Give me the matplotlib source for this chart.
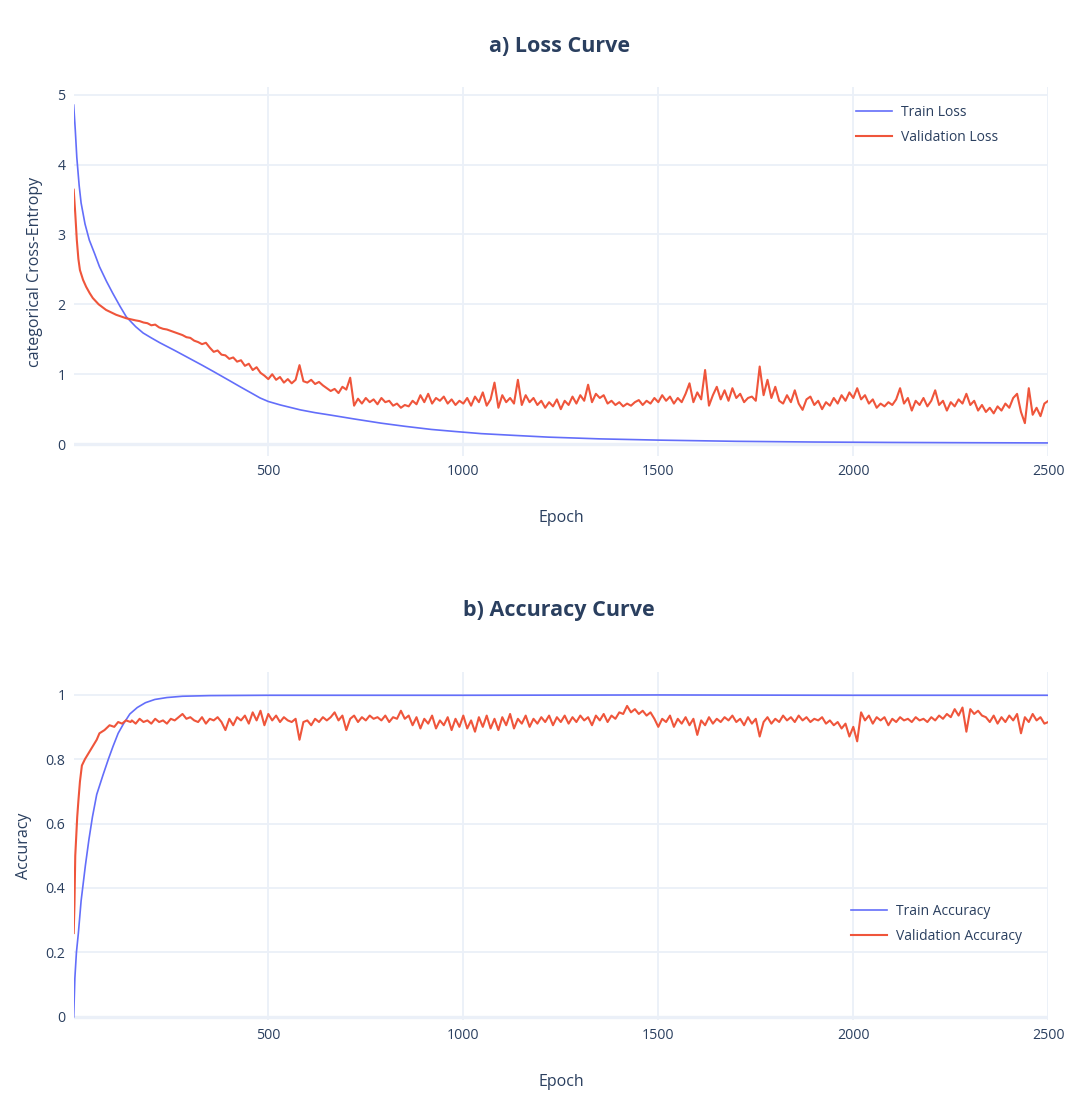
import numpy as np
import matplotlib
matplotlib.use("Agg")
import matplotlib.pyplot as plt

plt.rcParams['font.family'] = ['Open Sans', 'DejaVu Sans']

TEXT = '#2a3f5f'
GRID = '#ebf0f8'
BLUE = '#636efa'
RED = '#ef553b'

# ---- loss curve ----
train_loss_epochs = [1, 5, 9, 15, 20, 30, 41, 55, 67, 85, 101, 120, 136, 160, 179, 200, 222, 260,
                     290, 330, 359, 400, 428, 460, 479, 500, 531, 582, 620, 660, 720, 789, 850,
                     918, 980, 1046, 1130, 1218, 1350, 1502, 1700, 1900, 2100, 2300, 2500]
train_loss = [4.85, 4.5, 4.1, 3.7, 3.45, 3.15, 2.92, 2.72, 2.54, 2.33, 2.16, 1.97, 1.82, 1.68,
              1.59, 1.52, 1.45, 1.34, 1.25, 1.13, 1.04, 0.91, 0.82, 0.72, 0.66, 0.61, 0.56, 0.49,
              0.45, 0.415, 0.36, 0.30, 0.255, 0.21, 0.18, 0.15, 0.125, 0.10, 0.075, 0.057, 0.04,
              0.03, 0.024, 0.02, 0.017]

val_loss_head_epochs = [1, 5, 9, 13, 17, 25, 33, 42, 50, 65, 84, 110, 136, 160]
val_loss_head = [3.64, 3.3, 2.92, 2.65, 2.49, 2.35, 2.25, 2.16, 2.09, 2.0, 1.92, 1.85, 1.80, 1.77]
# every 10 epochs from 170 to 2500
val_loss_tail = [
    1.76, 1.74, 1.73, 1.70, 1.71, 1.67, 1.65, 1.64, 1.62, 1.60,
    1.58, 1.56, 1.53, 1.52, 1.48, 1.46, 1.43, 1.45, 1.38, 1.32,
    1.34, 1.28, 1.27, 1.22, 1.24, 1.18, 1.20, 1.12, 1.15, 1.06,
    1.10, 1.02, 0.98, 0.93, 1.00, 0.92, 0.96, 0.88, 0.93, 0.87,
    0.92, 1.13, 0.90, 0.88, 0.92, 0.86, 0.89, 0.84, 0.80, 0.76,
    0.79, 0.73, 0.82, 0.78, 0.95, 0.55, 0.65, 0.58, 0.66, 0.60,
    0.64, 0.57, 0.66, 0.60, 0.62, 0.55, 0.58, 0.52, 0.56, 0.54,
    0.62, 0.57, 0.70, 0.60, 0.72, 0.58, 0.66, 0.62, 0.68, 0.58,
    0.64, 0.56, 0.62, 0.58, 0.66, 0.55, 0.68, 0.60, 0.74, 0.55,
    0.64, 0.88, 0.52, 0.70, 0.60, 0.66, 0.58, 0.92, 0.56, 0.70,
    0.60, 0.66, 0.56, 0.62, 0.52, 0.60, 0.54, 0.64, 0.50, 0.62,
    0.56, 0.68, 0.58, 0.70, 0.62, 0.85, 0.60, 0.72, 0.66, 0.70,
    0.58, 0.62, 0.56, 0.60, 0.54, 0.58, 0.55, 0.60, 0.63, 0.56,
    0.62, 0.58, 0.66, 0.60, 0.70, 0.62, 0.68, 0.58, 0.66, 0.60,
    0.72, 0.87, 0.60, 0.74, 0.64, 1.06, 0.55, 0.70, 0.82, 0.64,
    0.77, 0.62, 0.80, 0.66, 0.72, 0.60, 0.66, 0.68, 0.62, 1.11,
    0.70, 0.92, 0.66, 0.82, 0.62, 0.58, 0.70, 0.60, 0.77, 0.58,
    0.49, 0.64, 0.68, 0.56, 0.62, 0.50, 0.60, 0.55, 0.66, 0.58,
    0.70, 0.62, 0.74, 0.66, 0.80, 0.64, 0.70, 0.58, 0.64, 0.52,
    0.58, 0.54, 0.60, 0.56, 0.64, 0.80, 0.58, 0.66, 0.48, 0.62,
    0.56, 0.66, 0.54, 0.62, 0.77, 0.56, 0.62, 0.48, 0.60, 0.54,
    0.64, 0.58, 0.72, 0.56, 0.62, 0.48, 0.56, 0.46, 0.52, 0.44,
    0.54, 0.48, 0.58, 0.52, 0.66, 0.72, 0.46, 0.30, 0.80, 0.42,
    0.52, 0.40, 0.58, 0.62,
]

# ---- accuracy curve ----
train_acc_epochs = [1, 4, 8, 13, 20, 31, 40, 49, 60, 76, 90, 102, 115, 129, 145, 164, 185, 209,
                    240, 280, 350, 500, 1000, 1500, 2000, 2500]
train_acc = [0.0, 0.12, 0.2, 0.26, 0.36, 0.47, 0.55, 0.62, 0.69, 0.75, 0.80, 0.84, 0.88, 0.91,
             0.94, 0.96, 0.975, 0.985, 0.991, 0.995, 0.997, 0.998, 0.998, 0.999, 0.998, 0.998]

val_acc_head_epochs = [1, 3, 5, 8, 10, 13, 17, 22, 30, 40, 50, 60, 67, 80, 93, 105, 115, 125, 135, 147]
val_acc_head = [0.26, 0.35, 0.50, 0.57, 0.62, 0.67, 0.73, 0.78, 0.80, 0.82, 0.84, 0.86, 0.88,
                0.89, 0.905, 0.90, 0.915, 0.91, 0.92, 0.915]
# every 10 epochs from 150 to 2500
val_acc_tail = [
    0.92, 0.91, 0.925, 0.915, 0.92, 0.91, 0.925, 0.915, 0.92, 0.91,
    0.925, 0.92, 0.93, 0.94, 0.925, 0.93, 0.92, 0.915, 0.93, 0.91,
    0.925, 0.92, 0.93, 0.915, 0.89, 0.925, 0.905, 0.93, 0.92, 0.935,
    0.91, 0.945, 0.92, 0.95, 0.905, 0.94, 0.92, 0.935, 0.915, 0.93,
    0.92, 0.915, 0.925, 0.86, 0.915, 0.92, 0.905, 0.925, 0.915, 0.93,
    0.92, 0.93, 0.945, 0.92, 0.935, 0.89, 0.925, 0.935, 0.915, 0.93,
    0.92, 0.935, 0.925, 0.93, 0.92, 0.935, 0.915, 0.93, 0.925, 0.95,
    0.925, 0.935, 0.905, 0.93, 0.895, 0.925, 0.91, 0.935, 0.895, 0.92,
    0.905, 0.93, 0.89, 0.925, 0.90, 0.935, 0.895, 0.92, 0.885, 0.93,
    0.90, 0.935, 0.895, 0.925, 0.89, 0.93, 0.905, 0.94, 0.895, 0.925,
    0.91, 0.935, 0.90, 0.925, 0.91, 0.93, 0.915, 0.935, 0.905, 0.93,
    0.915, 0.935, 0.91, 0.93, 0.915, 0.935, 0.92, 0.93, 0.905, 0.935,
    0.92, 0.94, 0.915, 0.935, 0.925, 0.945, 0.94, 0.965, 0.945, 0.955,
    0.94, 0.95, 0.935, 0.945, 0.925, 0.90, 0.925, 0.915, 0.935, 0.90,
    0.925, 0.91, 0.93, 0.905, 0.925, 0.875, 0.92, 0.905, 0.93, 0.91,
    0.925, 0.915, 0.93, 0.92, 0.935, 0.915, 0.925, 0.905, 0.93, 0.91,
    0.925, 0.87, 0.915, 0.93, 0.91, 0.925, 0.915, 0.935, 0.92, 0.93,
    0.915, 0.935, 0.92, 0.93, 0.915, 0.925, 0.92, 0.93, 0.91, 0.92,
    0.905, 0.915, 0.895, 0.91, 0.87, 0.90, 0.855, 0.945, 0.92, 0.935,
    0.91, 0.93, 0.92, 0.93, 0.905, 0.925, 0.915, 0.93, 0.92, 0.925,
    0.915, 0.93, 0.92, 0.925, 0.915, 0.93, 0.92, 0.935, 0.925, 0.94,
    0.93, 0.955, 0.935, 0.96, 0.885, 0.955, 0.94, 0.95, 0.935, 0.93,
    0.915, 0.935, 0.91, 0.93, 0.915, 0.935, 0.92, 0.94, 0.88, 0.93,
    0.915, 0.94, 0.92, 0.93, 0.91, 0.915,
]

x_ticks = [500, 1000, 1500, 2000, 2500]


def style_axes(ax, ylim, yticks, ylabel):
    ax.set_xlim(1, 2500)
    ax.set_ylim(*ylim)
    ax.set_xticks(x_ticks)
    ax.set_yticks(yticks)
    for s in ax.spines.values():
        s.set_visible(False)
    ax.grid(True, color=GRID, lw=1.3)
    ax.axhline(0, color=GRID, lw=2.4, zorder=0.5)
    ax.set_axisbelow(True)
    ax.tick_params(length=0, labelsize=10.2, labelcolor=TEXT, pad=6)
    ax.set_xlabel('Epoch', fontsize=11.5, color=TEXT, labelpad=22)
    ax.set_ylabel(ylabel, fontsize=11.5, color=TEXT, labelpad=10)


fig = plt.figure(figsize=(10.65, 10.98), dpi=100)

ax1 = fig.add_axes([0.0692, 0.5847, 0.9151, 0.3361])
vl_x = val_loss_head_epochs + list(np.linspace(170, 2500, len(val_loss_tail)))
ax1.plot(train_loss_epochs, train_loss, color=BLUE, lw=1.2, label='Train Loss')
ax1.plot(vl_x, val_loss_head + val_loss_tail, color=RED, lw=1.5, label='Validation Loss')
style_axes(ax1, (-0.17, 5.11), [0, 1, 2, 3, 4, 5], 'categorical Cross-Entropy')
ax1.set_yticklabels(['0', '1', '2', '3', '4', '5'])
ax1.legend(loc='upper left', bbox_to_anchor=(0.79, 0.985), frameon=False, fontsize=10,
           labelcolor=TEXT, handlelength=2.6, handletextpad=0.6, labelspacing=0.7)
fig.text(0.525, 0.958, 'a) Loss Curve', ha='center', va='center', fontsize=15.5,
         fontweight='bold', color=TEXT)

ax2 = fig.add_axes([0.0692, 0.0710, 0.9151, 0.3169])
va_x = val_acc_head_epochs + list(np.linspace(150, 2500, len(val_acc_tail)))
ax2.plot(train_acc_epochs, train_acc, color=BLUE, lw=1.2, label='Train Accuracy')
ax2.plot(va_x, val_acc_head + val_acc_tail, color=RED, lw=1.5, label='Validation Accuracy')
style_axes(ax2, (-0.01, 1.07), [0, 0.2, 0.4, 0.6, 0.8, 1], 'Accuracy')
ax2.set_yticklabels(['0', '0.2', '0.4', '0.6', '0.8', '1'])
ax2.legend(loc='upper left', bbox_to_anchor=(0.785, 0.37), frameon=False, fontsize=10,
           labelcolor=TEXT, handlelength=2.6, handletextpad=0.6, labelspacing=0.7)
fig.text(0.525, 0.444, 'b) Accuracy Curve', ha='center', va='center', fontsize=15.5,
         fontweight='bold', color=TEXT)

fig.savefig('out.png', dpi=100, facecolor='white')
